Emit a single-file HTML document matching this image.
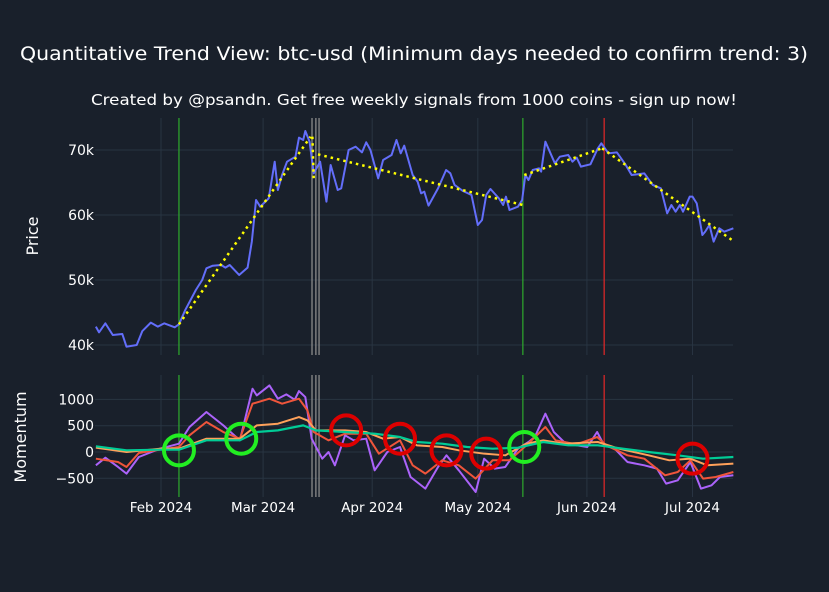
<!DOCTYPE html>
<html><head><meta charset="utf-8"><style>
body{margin:0;background:#19202b;}
svg{display:block;font-family:"DejaVu Sans","Liberation Sans",sans-serif;}
</style></head><body>
<svg id="c" width="829" height="592">
<rect width="829" height="592" fill="#19202b"/>
<text x="414" y="60" text-anchor="middle" fill="#fff" font-size="19" textLength="788" lengthAdjust="spacingAndGlyphs">Quantitative Trend View: btc-usd (Minimum days needed to confirm trend: 3)</text>
<text x="414" y="105" text-anchor="middle" fill="#fff" font-size="15.5" textLength="646" lengthAdjust="spacingAndGlyphs">Created by @psandn. Get free weekly signals from 1000 coins - sign up now!</text>
<text transform="translate(38,236) rotate(-90)" text-anchor="middle" fill="#fff" font-size="16">Price</text>
<text transform="translate(26,437) rotate(-90)" text-anchor="middle" fill="#fff" font-size="16">Momentum</text>
<g id="g"></g>
</svg>
<script>
const priceDays=[12.5,13.4,15.2,17.3,20.0,21.2,24.1,25.7,28.1,30.1,31.9,34.9,36.1,37.9,40.9,42.7,43.9,45.7,48.1,49.3,50.5,53.2,55.6,56.8,58.0,59.2,61.6,63.3,64.2,65.4,66.8,69.2,70.2,71.4,72.0,73.2,74.4,76.2,78.0,79.2,81.2,82.2,84.3,86.3,88.1,89.3,90.5,92.7,94.1,96.5,97.9,99.1,100.1,102.5,103.9,104.9,105.8,107.0,109.7,112.0,113.2,114.4,116.8,119.2,121.0,122.2,123.4,124.6,127.0,128.2,129.0,130.0,132.4,133.6,134.5,135.4,136.6,138.4,139.0,140.2,142.9,144.3,146.7,147.9,149.1,150.3,153.0,155.1,156.1,158.1,160.5,162.9,164.7,168.3,170.7,173.0,174.8,176.0,177.2,178.4,179.3,181.2,182.0,183.2,184.8,185.6,186.8,188.0,189.6,191.0,193.6];
const priceVals=[42820,41950,43330,41540,41700,39740,40000,42150,43440,42820,43330,42720,43180,45390,48460,50000,51800,52200,52310,51900,52310,50770,51900,55900,62310,61280,62560,68200,63850,66150,68200,68970,71900,71540,72920,71280,66410,68200,62050,67690,63850,64100,70000,70510,69640,71180,70000,65640,68460,69230,71540,69490,70670,66150,65130,63330,63590,61440,64100,66920,66410,64620,63690,63080,58460,59230,63080,64000,62560,61540,62820,60770,61280,62310,66150,65380,66920,67180,66670,71280,67950,68970,69230,68200,68820,67440,67800,70260,71030,69490,69640,67800,66150,66410,64620,64100,60260,61540,60510,61540,60510,62820,62820,61790,56920,57440,58460,55900,57950,57440,57950];
const trendStartDays=[36.1,74.0,75.6,134.2,156.3];
const trendStartVals=[43180,72050,69330,66150,70260];
const trendEndDays=[73.5,74.4,133.8,156.3,193.6];
const trendEndVals=[72050,65380,61540,70260,56000];
const purpleDays=[12.5,15.2,18.8,21.2,24.7,30.7,36.1,39.1,43.9,48.7,53.4,57.0,58.2,61.8,64.2,66.6,69.0,70.2,72.0,73.8,76.8,78.6,80.4,83.3,85.7,89.3,91.7,95.3,98.9,101.9,106.1,109.7,112.1,115.6,120.4,122.8,125.8,128.8,132.4,135.4,137.2,140.2,142.6,145.5,149.1,152.1,154.9,156.9,159.9,163.5,168.3,171.9,174.5,177.8,181.4,184.4,187.4,189.8,193.6];
const purpleVals=[-253,-108,-285,-411,-95,63,158,475,760,506,222,1203,1076,1266,1013,1095,994,1158,1044,253,-127,0,-253,317,222,253,-348,0,95,-475,-696,-285,-63,-348,-760,-127,-316,-285,63,190,285,728,380,190,127,95,380,127,63,-190,-253,-316,-601,-538,-190,-696,-633,-475,-443];
const redDays=[12.5,18.8,21.2,24.7,30.7,36.1,39.1,43.9,48.7,53.4,57.0,61.8,65.4,70.2,72.6,74.4,78.6,83.3,89.3,92.9,98.9,102.5,106.1,110.9,115.6,120.4,125.2,130.0,134.8,140.2,143.1,149.1,154.9,157.5,163.5,168.3,174.2,177.8,181.4,185.0,188.6,193.6];
const redVals=[-127,-190,-285,-19,44,95,317,570,380,253,918,1013,918,1013,791,380,222,348,348,-32,222,-253,-411,-158,-253,-506,-158,-158,127,475,222,146,285,127,-63,-127,-443,-380,-158,-506,-475,-380];
const orangeDays=[12.5,21.2,30.7,36.1,43.9,53.4,58.2,64.2,70.2,72.6,75.0,83.3,89.3,94.1,98.9,103.7,110.9,115.6,122.8,128.8,134.8,139.6,145.5,155.1,161.1,169.5,175.4,181.4,186.2,193.6];
const orangeVals=[82,0,63,63,253,253,506,538,665,601,411,411,380,253,285,127,95,32,-32,-63,158,222,158,190,63,-63,-158,-127,-253,-222];
const tealDays=[12.5,21.2,30.7,36.1,43.9,53.4,58.2,64.2,71.4,75.0,83.3,91.7,98.9,103.7,110.9,118.0,125.2,132.4,139.6,146.7,155.1,162.3,169.5,177.8,185.0,193.6];
const tealVals=[108,32,44,44,222,222,380,411,506,411,380,348,285,190,158,95,63,82,190,127,127,63,0,-63,-127,-95];
const greenSignalDays=[36.1,53.8,134.2];
const greenSignalVals=[32,253,95];
const redSignalDays=[83.6,98.9,112.1,123.4,182.0];
const redSignalVals=[411,253,32,-32,-127];
const buyLineDays=[36.1,133.8];
const sellLineDays=[156.9];
const neutralLineDays=[73.9,75.0,75.9];
const monthDays=[31,60,91,121,152,182];
const monthLabels=["Feb 2024","Mar 2024","Apr 2024","May 2024","Jun 2024","Jul 2024"];
const priceTicks=[40000,50000,60000,70000];
const priceTickLabels=["40k","50k","60k","70k"];
const momTicks=[-500,0,500,1000];
const momTickLabels=["−500","0","500","1000"];

const X0=95,X1=733,D0=12.25,D1=193.5;
const x=d=>X0+(d-D0)/(D1-D0)*(X1-X0);
const yP=v=>150-(v-70000)/10000*65;
const yM=v=>452-v/500*26.3;
const NS="http://www.w3.org/2000/svg";
const g=document.getElementById('g');
function mk(t,a){const e=document.createElementNS(NS,t);for(const k in a)e.setAttribute(k,a[k]);g.appendChild(e);return e;}
monthDays.forEach((d,i)=>{
 const l1=mk('line',{x1:x(d),x2:x(d),y1:118,y2:355,stroke:'#283442','stroke-width':1});
 
 
 const l2=mk('line',{x1:x(d),x2:x(d),y1:375,y2:497,stroke:'#283442','stroke-width':1});
 
 
 const t=mk('text',{x:x(d),y:512,'text-anchor':'middle',fill:'#fff','font-size':13.5});
 t.textContent=monthLabels[i];
 
 
});
priceTicks.forEach((v,i)=>{
 const l=mk('line',{x1:X0,x2:X1,y1:yP(v),y2:yP(v),stroke:'#283442','stroke-width':1});
 
 
 const t=mk('text',{x:X0-1,y:yP(v)+5,'text-anchor':'end',fill:'#fff','font-size':14});
 t.textContent=priceTickLabels[i];
 
 
});
momTicks.forEach((v,i)=>{
 const l=mk('line',{x1:X0,x2:X1,y1:yM(v),y2:yM(v),stroke:'#283442','stroke-width':1});
 
 
 const t=mk('text',{x:X0-1,y:yM(v)+5,'text-anchor':'end',fill:'#fff','font-size':14});
 t.textContent=momTickLabels[i];
 
 
});
function vline(d,c,name){
 [[118,355],[375,497]].forEach(r=>{
  const l=mk('line',{x1:x(d),x2:x(d),y1:r[0],y2:r[1],stroke:c,'stroke-width':1.3});
  
  
 });
}
neutralLineDays.forEach(d=>vline(d,'#8a8a8a','neutral-signal-line'));
buyLineDays.forEach(d=>vline(d,'#2ca02c','buy-signal-line'));
sellLineDays.forEach(d=>vline(d,'#d62728','sell-signal-line'));
function poly(ds,vs,yf,c,w,name,dash){
 const p=mk('polyline',{points:ds.map((d,i)=>x(d)+','+yf(vs[i])).join(' '),fill:'none',stroke:c,'stroke-width':w,'stroke-linejoin':'round'});
 if(dash)p.setAttribute('stroke-dasharray',dash);
 
 
}
poly(priceDays,priceVals,yP,'#636efa',2,'price-line');
trendStartDays.forEach((d,i)=>{
 poly([d,trendEndDays[i]],[trendStartVals[i],trendEndVals[i]],yP,'#ffff00',2.5,'trend-line','2.5,4');
});
poly(purpleDays,purpleVals,yM,'#ab63fa',2,'momentum-purple');
poly(redDays,redVals,yM,'#ef553b',2,'momentum-red');
poly(orangeDays,orangeVals,yM,'#ffa15a',2,'momentum-orange');
poly(tealDays,tealVals,yM,'#00cc96',2.2,'momentum-teal');
greenSignalDays.forEach((d,i)=>{
 const c=mk('ellipse',{cx:x(d),cy:yM(greenSignalVals[i]),rx:15,ry:15,fill:'none',stroke:'#22ee22','stroke-width':4});
 
 
});
redSignalDays.forEach((d,i)=>{
 const c=mk('ellipse',{cx:x(d),cy:yM(redSignalVals[i]),rx:15,ry:15,fill:'none',stroke:'#dd0000','stroke-width':4});
 
 
});
</script>
</body></html>
